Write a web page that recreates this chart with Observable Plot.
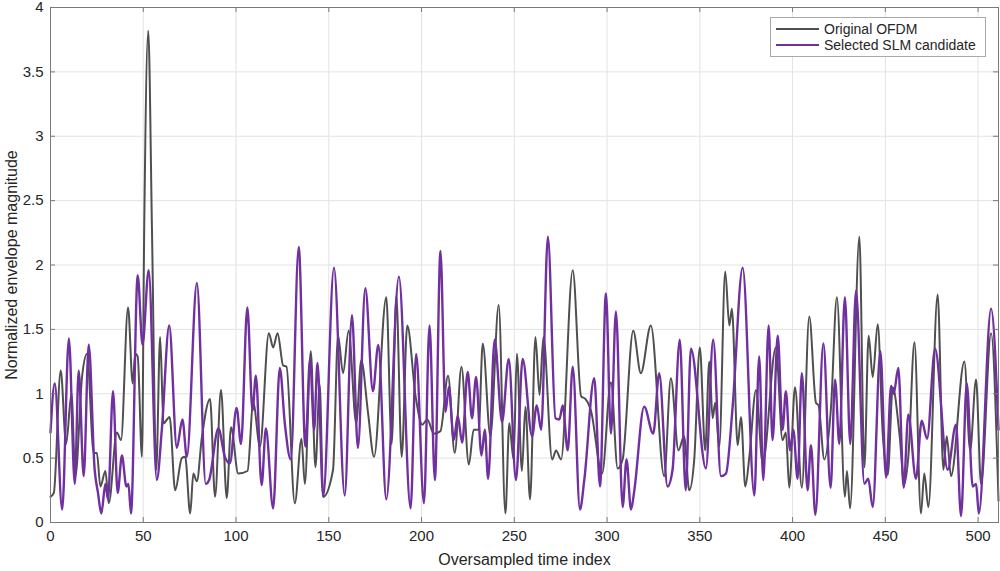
<!DOCTYPE html>
<html>
<head>
<meta charset="utf-8">
<script src="https://cdn.jsdelivr.net/npm/d3@7"></script>
<script src="https://cdn.jsdelivr.net/npm/@observablehq/plot@0.6"></script>
<style>
  html, body { margin: 0; padding: 0; background: #fff; }
  #wrap { position: relative; width: 1000px; height: 571px; font-family: "Liberation Sans", Arial, Helvetica, sans-serif; }
  #legend { position: absolute; left: 770px; top: 17px; width: 216px; height: 40px; box-sizing: border-box;
            border: 1px solid #a8a8a8; background: #fff; font-size: 14px; color: #262626; padding-top: 3px; }
  .row { display: flex; align-items: center; height: 16px; }
  .sw { width: 43px; height: 0; margin-left: 5px; margin-right: 5px; }
</style>
</head>
<body>
<div id="wrap"><div id="chart"></div><div id="legend"></div></div>
<script>
// ---- data (index, value at local extrema) ----
const origIndex = [0,1.8,5.5,8.4,11.3,13.4,17,19.7,23.3,25,26.9,29.6,31.4,35.8,38,41.8,44.3,45.7,47,49.3,50.5,52.7,54.7,57,59.1,60.9,64.2,67.2,70.8,72.6,75.3,77,78.9,81.5,86,88.7,91.9,95,97.3,101.2,106.2,109.3,112.9,117.7,120,122.4,125.4,127.2,131.7,135.3,137.1,140.3,142.8,145.1,147,152.3,155,157.7,160.7,164.8,167.5,171.1,174.4,181,183.9,186.4,189.3,192.3,196.8,200.4,203.1,206.6,210.2,214.3,217.9,221.5,225.5,228.1,230.8,233,237.1,241.6,245.2,247.3,249.6,251.4,254.1,256,258.5,261.4,263.6,265.7,270.4,272.5,275.2,281.5,286,288.3,291.3,297.3,302.1,305.7,308.4,314.1,318.2,323.6,330.8,334.4,338.5,341.5,344.3,347,350,352.9,355.1,356.9,358.3,360.5,363.7,365.9,367.3,370.4,372.2,374.5,376.7,380.3,383.9,391,394.6,396.4,398.2,401.3,405,409,412.6,414,417.1,420.7,423.9,428.2,429.3,431,436,438.7,441,443.2,445.9,448.6,451.3,454,457.6,460.3,462.5,465.7,469.2,471,473.2,478.2,481.3,483.1,485.4,492.6,495.7,498.9,501.6,507,511];
const origValue = [0.2,0.23,1.18,0.61,1.0,0.36,1.13,1.31,0.54,0.54,0.28,0.40,0.15,0.7,0.64,1.67,1.08,1.31,1.29,0.51,2.27,3.82,2.27,0.41,1.44,0.77,0.82,0.25,0.5,0.51,0.07,0.38,0.32,0.65,0.96,0.2,1.03,0.19,0.74,0.38,0.40,0.93,0.59,1.47,1.36,1.47,1.22,1.21,0.15,0.65,0.30,1.33,0.43,1.07,0.2,0.41,1.45,1.16,1.49,0.77,1.26,0.86,0.51,1.75,0.61,1.76,0.51,1.53,0.98,0.76,0.80,0.69,0.71,1.14,0.54,1.21,0.45,0.72,0.72,1.39,0.67,1.69,0.07,0.77,0.49,1.31,0.40,0.90,0.18,1.44,0.99,1.44,0.49,0.56,0.49,1.96,0.98,0.96,0.87,0.38,1.09,0.42,0.49,1.49,1.16,1.53,0.36,1.12,0.56,0.67,0.25,0.49,1.36,0.56,1.25,0.81,0.93,0.59,1.95,1.53,1.66,0.60,0.82,0.28,0.51,1.03,0.46,1.36,0.64,0.70,0.27,1.05,0.27,1.60,0.93,0.91,0.49,0.89,1.75,0.20,0.40,0.11,2.22,0.43,1.45,1.13,1.54,0.69,0.37,1.05,0.69,0.30,0.53,1.40,0.07,0.38,0.12,1.77,0.41,0.67,0.36,1.25,0.56,1.11,0.30,1.47,0.17];

const slmIndex = [0,2.3,6.3,9.9,13.1,15.2,17.9,20.6,23.8,25.6,27.4,29.6,31,33.7,36.2,38.5,40.9,42,43.4,47,49.6,52.9,57.3,60,64,68.1,71.1,73.5,78.9,83.7,85.5,90.5,94,96.7,100.3,102.7,106.1,108.9,110.7,113.8,116.1,120,123.6,126.3,129.5,133.8,137.4,139.9,142.1,143.9,147,152.8,158.6,162.5,165.7,169.7,173.8,176.7,181,187.8,194.1,197.1,201.3,204.3,207.2,210.2,212.9,214.7,217.4,219.5,221.9,224.9,227.2,229.4,232.3,234.1,235.9,239.4,243.4,247,250.9,254.5,259.6,262.1,264.5,268.1,272.2,274.3,276.1,278.8,281.5,285.4,287.8,293.1,296.2,299.4,302.1,304.8,308.4,310.5,312.9,314.7,320,324.9,328.1,332.6,335.3,339.2,342.4,345.2,353.3,357.2,361.4,364.1,367.7,373.1,379.4,382,384.2,387.1,389.2,392,394.6,396.4,398.6,400.4,402.7,405,408.1,409.9,412.3,416.6,420.5,422.9,425.2,428.2,431.1,434.2,438.7,440.8,443.2,447.3,450.4,453.1,454.5,457,459.9,462.4,466.5,469.6,472.5,476.8,483.6,488.1,490.8,493.9,497.1,498.9,500.4,507,511];
const slmValue = [0.70,1.08,0.1,1.43,0.3,1.18,0.36,1.38,0.41,0.23,0.07,0.3,0.18,1.02,0.23,0.52,0.28,0.30,0.07,1.92,1.38,1.96,0.33,0.72,1.53,0.58,0.80,0.51,1.86,0.30,0.33,0.73,0.51,0.46,0.89,0.61,1.67,0.87,1.14,0.29,0.73,0.11,1.20,0.77,0.49,2.14,0.59,1.27,0.72,1.24,0.20,1.98,0.21,1.61,0.58,1.82,1.02,1.38,0.18,1.91,0.11,1.31,0.15,1.53,0.33,2.11,0.86,1.05,0.64,0.83,0.62,1.17,0.81,1.13,0.52,0.72,0.34,1.42,0.78,1.27,0.33,1.27,0.67,0.91,0.72,2.22,0.81,0.80,0.91,0.56,1.21,0.10,0.34,1.12,0.28,1.78,0.69,1.64,0.12,0.49,0.10,0.25,0.90,0.69,1.16,0.28,0.41,1.42,0.25,1.35,0.42,1.42,0.36,0.38,0.90,1.98,0.21,1.29,0.33,1.53,0.64,1.45,0.72,1.02,0.56,0.72,0.34,1.16,0.25,0.60,0.06,1.39,0.27,1.11,0.61,1.75,0.61,1.80,0.30,0.34,0.12,1.33,0.35,1.06,1.0,1.20,0.27,0.84,0.34,0.79,0.65,1.35,0.41,0.76,0.05,1.08,0.28,0.30,0.07,1.66,0.72];

const xTicks = [0,50,100,150,200,250,300,350,400,450,500];
const yTicks = [0,0.5,1,1.5,2,2.5,3,3.5,4];
const seriesNames = ["Original OFDM", "Selected SLM candidate"];
const seriesColors = ["#4f4f4f", "#7030a0"];
const xLabel = "Oversampled time index";
const yLabel = "Normalized envelope magnitude";

// ---- build tables ----
const orig = origIndex.map((x, i) => ({x, y: origValue[i]}));
const slm = slmIndex.map((x, i) => ({x, y: slmValue[i]}));

const W = 1000, H = 571, mL = 50, mR = 2, mT = 7, mB = 49;
const pw = W - mL - mR, ph = H - mT - mB, tk = 5;
const frameColor = "#7a7a7a";

const chart = Plot.plot({
  width: W, height: H,
  marginLeft: mL, marginRight: mR, marginTop: mT, marginBottom: mB,
  style: {fontFamily: '"Liberation Sans", Arial, Helvetica, sans-serif', fontSize: "15px", color: "#262626", background: "#fff", overflow: "visible"},
  x: {domain: [0, 511]},
  y: {domain: [0, 4]},
  marks: [
    Plot.gridX(xTicks, {stroke: "#e3e3e3", strokeOpacity: 1, strokeWidth: 1}),
    Plot.gridY(yTicks, {stroke: "#e3e3e3", strokeOpacity: 1, strokeWidth: 1}),
    Plot.line(orig, {x: "x", y: "y", stroke: seriesColors[0], strokeWidth: 2.0, curve: "monotone-x"}),
    Plot.line(slm, {x: "x", y: "y", stroke: seriesColors[1], strokeWidth: 2.4, curve: "monotone-x"}),
    Plot.frame({stroke: frameColor, strokeWidth: 1}),
    // inward ticks (bottom, top, left, right)
    Plot.ruleX(xTicks, {stroke: frameColor, insetTop: ph - tk}),
    Plot.ruleX(xTicks, {stroke: frameColor, insetBottom: ph - tk}),
    Plot.ruleY(yTicks, {stroke: frameColor, insetRight: pw - tk}),
    Plot.ruleY(yTicks, {stroke: frameColor, insetLeft: pw - tk}),
    Plot.axisX(xTicks, {tickSize: 0, tickPadding: 8, tickFormat: d3.format("~g"), label: xLabel, labelAnchor: "center", labelArrow: "none", labelOffset: 42, fontSize: 15}),
    Plot.axisY(yTicks, {tickSize: 0, tickPadding: 7, tickFormat: d3.format("~g"), label: yLabel, labelAnchor: "center", labelArrow: "none", labelOffset: 45, fontSize: 15})
  ]
});
chart.querySelectorAll("g[aria-label='x-axis label'] text, g[aria-label='y-axis label'] text").forEach(t => t.setAttribute("font-size", "16px"));
document.getElementById("chart").append(chart);

const legend = document.getElementById("legend");
seriesNames.forEach((name, i) => {
  const row = document.createElement("div");
  row.className = "row";
  const sw = document.createElement("div");
  sw.className = "sw";
  sw.style.borderTop = `2px solid ${seriesColors[i]}`;
  const tx = document.createElement("span");
  tx.textContent = name;
  row.append(sw, tx);
  legend.append(row);
});
</script>
</body>
</html>
